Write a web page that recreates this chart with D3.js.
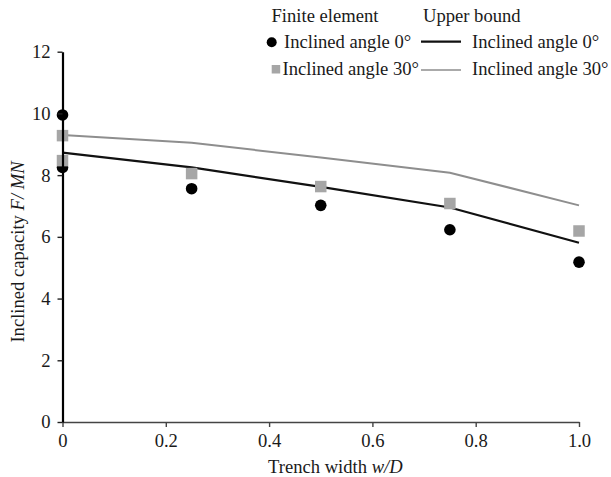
<!DOCTYPE html>
<html>
<head>
<meta charset="utf-8">
<script src="https://cdn.jsdelivr.net/npm/d3@7"></script>
<style>
  body { margin: 0; background: #fff; }
  svg text { font-family: "Liberation Serif", "Times New Roman", serif; fill: #1a1a1a; }
</style>
</head>
<body>
<div id="chart"></div>
<script>
// finite element results (two values at w/D = 0)
const feX = [0, 0, 0.25, 0.5, 0.75, 1.0];
const fe0 = [9.95, 8.25, 7.56, 7.02, 6.23, 5.18];
const fe30 = [9.28, 8.47, 8.05, 7.63, 7.08, 6.19];

// upper bound solution
const ubX = [0, 0.25, 0.5, 0.75, 1.0];
const ub0 = [8.73, 8.25, 7.62, 6.95, 5.81];
const ub30 = [9.30, 9.05, 8.57, 8.08, 7.02];

const xTicks = [0, 0.2, 0.4, 0.6, 0.8, 1.0];
const xTickLabels = ['0', '0.2', '0.4', '0.6', '0.8', '1.0'];
const yTicks = [0, 2, 4, 6, 8, 10, 12];

const width = 611, height = 477;
const fontSize = 18.6;
const serif = '"Liberation Serif", "Times New Roman", serif';

const svg = d3.select('#chart')
  .append('svg')
  .attr('width', width)
  .attr('height', height);

const xScale = d3.scaleLinear().domain([0, 1]).range([62.5, 579]);
const yScale = d3.scaleLinear().domain([0, 12]).range([422, 51.7]);

// upper bound lines
const line = d3.line().x((d, i) => xScale(ubX[i])).y(d => yScale(d));
svg.append('path').datum(ub30)
  .attr('d', line).attr('fill', 'none')
  .attr('stroke', '#8e8e8e').attr('stroke-width', 2);
svg.append('path').datum(ub0)
  .attr('d', line).attr('fill', 'none')
  .attr('stroke', '#111').attr('stroke-width', 2.2);

// finite element points
svg.selectAll('.fe0')
  .data(fe0)
  .enter()
  .append('circle')
  .attr('cx', (d, i) => xScale(feX[i]))
  .attr('cy', d => yScale(d))
  .attr('r', 5.8)
  .attr('fill', '#000');

const sq = 11.5;
svg.selectAll('.fe30')
  .data(fe30)
  .enter()
  .append('rect')
  .attr('x', (d, i) => xScale(feX[i]) - sq / 2)
  .attr('y', d => yScale(d) - sq / 2)
  .attr('width', sq)
  .attr('height', sq)
  .attr('fill', '#a6a6a6');

// axes
const xAxis = svg.append('g')
  .attr('transform', `translate(0,${yScale(0)})`)
  .call(d3.axisBottom(xScale).tickValues(xTicks)
    .tickFormat((d, i) => xTickLabels[i]).tickSize(5).tickSizeOuter(0).tickPadding(7));
xAxis.select('.domain').attr('stroke', '#444').attr('stroke-width', 1.6);
xAxis.selectAll('.tick line').attr('stroke', '#444').attr('stroke-width', 1.4);

const yAxis = svg.append('g')
  .attr('transform', `translate(${xScale(0)},0)`)
  .call(d3.axisLeft(yScale).tickValues(yTicks).tickSize(5).tickSizeOuter(0).tickPadding(7));
yAxis.select('.domain').attr('stroke', '#000').attr('stroke-width', 2.2);
yAxis.selectAll('.tick line').attr('stroke', '#222').attr('stroke-width', 1.4);

svg.selectAll('g').attr('font-family', serif);
svg.selectAll('.tick text')
  .style('font-family', serif)
  .style('font-size', fontSize + 'px')
  .attr('fill', '#1a1a1a');

// axis titles
const xTitle = svg.append('text')
  .attr('x', 268).attr('y', 473)
  .attr('font-size', fontSize);
xTitle.append('tspan').text('Trench width ');
xTitle.append('tspan').attr('font-style', 'italic').text('w/D');

const yTitle = svg.append('text')
  .attr('transform', 'translate(24,252) rotate(-90)')
  .attr('text-anchor', 'middle')
  .attr('font-size', fontSize);
yTitle.append('tspan').text('Inclined capacity ');
yTitle.append('tspan').attr('font-style', 'italic').text('F/');
yTitle.append('tspan').text(' ');
yTitle.append('tspan').attr('font-style', 'italic').text('MN');

// legend
const legend = svg.append('g').attr('font-size', fontSize);
legend.append('text').attr('x', 271.5).attr('y', 22).text('Finite element');
legend.append('text').attr('x', 423).attr('y', 22).text('Upper bound');

legend.append('circle').attr('cx', 271.7).attr('cy', 42.3).attr('r', 5).attr('fill', '#000');
legend.append('text').attr('x', 284).attr('y', 47.7).text('Inclined angle 0°');
legend.append('line').attr('x1', 421).attr('x2', 461).attr('y1', 41.7).attr('y2', 41.7)
  .attr('stroke', '#111').attr('stroke-width', 2.2);
legend.append('text').attr('x', 472).attr('y', 47.7).text('Inclined angle 0°');

legend.append('rect').attr('x', 271.7).attr('y', 65).attr('width', 8.5).attr('height', 8.5).attr('fill', '#a6a6a6');
legend.append('text').attr('x', 282.5).attr('y', 75).text('Inclined angle 30°');
legend.append('line').attr('x1', 421).attr('x2', 461).attr('y1', 70).attr('y2', 70)
  .attr('stroke', '#8e8e8e').attr('stroke-width', 1.6);
legend.append('text').attr('x', 472).attr('y', 75).text('Inclined angle 30°');
</script>
</body>
</html>
